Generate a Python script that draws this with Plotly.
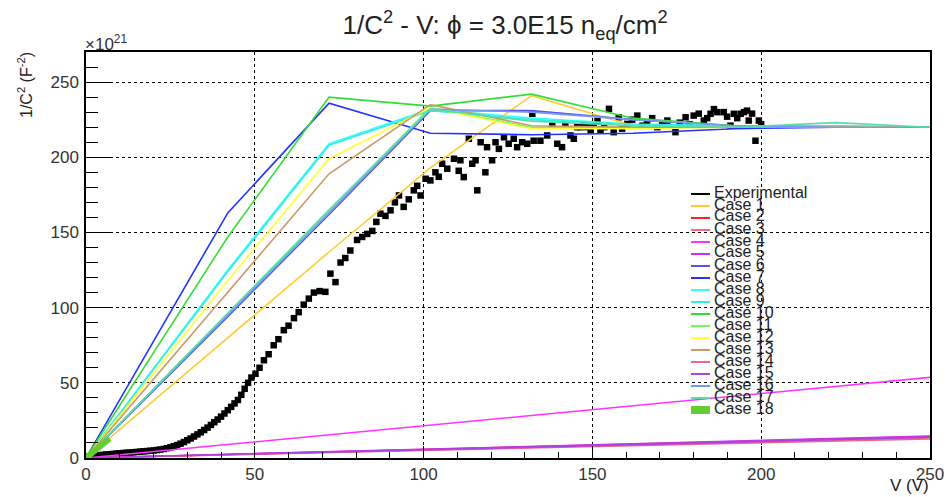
import plotly.graph_objects as go

# ---------------- data ----------------
exp_v = [0, 1, 2, 3, 4, 5, 6, 7, 8, 9, 10, 11, 12, 13, 14, 15, 16, 17, 18, 19, 20,
         21, 22, 23, 24, 25, 26, 27, 28, 29, 30, 31, 32, 33, 34, 35, 36, 37, 38, 39, 40,
         41, 42, 43, 44, 45, 46, 47, 48, 49,
         50.2, 51.4, 52.7, 54.1, 55.6, 57, 58.6, 60, 61.6, 63, 64.5, 66, 67.5, 69.2, 70.9,
         72.4, 73.9, 75.4, 76.8, 78.3, 80.3, 81.8, 83.3, 84.8, 86, 87.2, 88.7, 90.2, 91.5,
         92.7, 94.1, 95.6, 97.1, 98.1, 99.1, 100.6, 102, 103.5, 104.5, 105.5, 107, 109,
         110.4, 110.9, 111.9, 113.4, 114.4, 115.4, 115.9, 116.9, 118.3, 118.8, 120.3, 121.3,
         122.3, 123.8, 125.2, 126.7, 127.7, 129.2, 130.7, 132.2, 132.6, 134.6, 136.6, 138.1,
         139.6, 141, 142, 143.5, 144.5, 145.5, 146.5, 147.5, 148.5, 149.5, 150.4, 151.5,
         152.4, 153.5, 154.9, 156.3, 157.8, 158.8, 160.3, 161.8, 163.3, 164.8, 166.2, 167.7,
         169.2, 170.7, 172.2, 174.6, 175.9, 177.6, 178.8, 180, 181.5, 183, 184, 185, 186,
         187, 188.9, 189.9, 190.9, 191.9, 192.9, 193.9, 194.9, 195.8, 196.3, 197.3, 198.3,
         199.3, 200]
exp_c = [0.5, 1.0, 1.3, 1.6, 1.9, 2.1, 2.3, 2.5, 2.7, 2.9, 3.1, 3.3, 3.5, 3.6, 3.8, 4.0,
         4.2, 4.4, 4.6, 4.8, 5.0, 5.3, 5.6, 6.0, 6.5, 7.1, 7.8, 8.6, 9.5, 10.6, 11.8, 13.0,
         14.3, 15.7, 17.1, 18.6, 20.2, 22.0, 23.8, 25.6, 27.5, 29.6, 31.8, 34.0, 36.3, 38.6,
         42.0, 46.0, 50.0, 53.5,
         56, 60, 65, 69, 75, 79, 85, 88, 93, 97, 102, 106, 110, 111, 110.5,
         122.6, 117, 130, 133, 138, 145, 147, 149, 151, 157, 162.5, 161, 164.7, 170,
         174.6, 167, 172, 178, 181, 174.6, 185.7, 184.6, 190, 187, 195.7, 192.4, 199,
         191, 198, 186.8, 212.3, 195.7, 198, 178, 210, 190, 206.7, 198, 210,
         205.6, 213.3, 209, 212.3, 206.7, 210, 209, 228.9, 211, 211, 214.5, 221,
         209, 206.7, 222, 214.5, 212.3, 220, 220, 222, 220, 218, 221, 224,
         217.8, 220, 232.2, 216.7, 226.6, 219, 222.2, 225, 227.7, 221, 223.3, 226,
         220, 222, 224.4, 216.7, 223, 226.6, 222, 227.7, 229, 224.4, 226, 228.9, 232,
         230, 230, 227, 221, 228.9, 226, 228.9, 230, 231, 224.4, 229, 211,
         224.4, 222]

case_names = ["Case 1", "Case 2", "Case 3", "Case 4", "Case 5", "Case 6", "Case 7",
              "Case 8", "Case 9", "Case 10", "Case 11", "Case 12", "Case 13",
              "Case 14", "Case 15", "Case 16", "Case 17", "Case 18"]

sim_v = [0, 42, 72, 102, 132, 162, 192, 222, 250]
low_v = [0, 250]
c18_v = [0, 7]

case_v = {
    "Case 1": sim_v, "Case 2": low_v, "Case 3": low_v, "Case 4": low_v,
    "Case 5": low_v, "Case 6": sim_v, "Case 7": sim_v, "Case 8": sim_v,
    "Case 9": sim_v, "Case 10": sim_v, "Case 11": sim_v, "Case 12": sim_v,
    "Case 13": sim_v, "Case 14": low_v, "Case 15": low_v, "Case 16": sim_v,
    "Case 17": sim_v, "Case 18": c18_v,
}
case_c = {
    "Case 1":  [0, 80, 137, 193, 241, 221, 220, 220, 220],
    "Case 2":  [0, 14.2],
    "Case 3":  [0, 13.4],
    "Case 4":  [0, 53.6],
    "Case 5":  [0, 14.6],
    "Case 6":  [0, 94, 162, 231, 231, 225, 221, 220, 220],
    "Case 7":  [0, 163, 236, 216, 215, 216, 219, 220, 220],
    "Case 8":  [0, 125, 209, 232, 226, 222, 221, 221, 220],
    "Case 9":  [0, 124, 208, 231, 225, 222, 221, 221, 220],
    "Case 10": [0, 147, 240, 234, 242, 226, 221, 220, 220],
    "Case 11": [0, 96, 165, 233, 220, 220, 220, 220, 220],
    "Case 12": [0, 118, 199, 233, 219, 219, 220, 220, 220],
    "Case 13": [0, 110, 189, 235, 221, 220, 220, 220, 220],
    "Case 14": [0, 12.6],
    "Case 15": [0, 13.8],
    "Case 16": [0, 95, 163, 232, 230, 225, 221, 220, 220],
    "Case 17": [0, 96, 165, 232, 224, 221, 220, 223, 220],
    "Case 18": [0, 13],
}

x_ticks = [0, 50, 100, 150, 200, 250]
y_ticks = [0, 50, 100, 150, 200, 250]

# ---------------- styles ----------------
colors = {
    "Case 1": "#ffcc33", "Case 2": "#ff2222", "Case 3": "#ff6677", "Case 4": "#ff33ff",
    "Case 5": "#cc33ee", "Case 6": "#5555ee", "Case 7": "#2233ff", "Case 8": "#33ffff",
    "Case 9": "#33eedd", "Case 10": "#33dd33", "Case 11": "#66ff55", "Case 12": "#ffff33",
    "Case 13": "#cc9966", "Case 14": "#ee6688", "Case 15": "#aa44dd", "Case 16": "#7799ee",
    "Case 17": "#55ddaa", "Case 18": "#66cc33",
}
FONT = "Liberation Sans, Arial, Helvetica, sans-serif"

fig = go.Figure()
fig.add_trace(go.Scatter(x=exp_v, y=exp_c, mode="markers", name="Experimental",
                         marker=dict(symbol="square", size=6.5, color="black"),
                         showlegend=False))
for n in case_names:
    w = 6 if n == "Case 18" else 1.6
    fig.add_trace(go.Scatter(x=case_v[n], y=case_c[n], mode="lines", name=n,
                             line=dict(color=colors[n], width=w), showlegend=False))

W, H = 947, 497
L, R, T, B = 86, 930, 52, 458          # plot area in pixels


def px(xp):
    return (xp - L) / (R - L)


def py(yp):
    return (B - yp) / (B - T)


axis_common = dict(showline=True, linecolor="black", linewidth=1.5, mirror=True,
                   ticks="inside", tickcolor="black", showgrid=True, gridcolor="black",
                   griddash="dot", gridwidth=1, zeroline=False, automargin=False,
                   tickfont=dict(family=FONT, size=17, color="#333"))

fig.update_layout(
    width=W, height=H,
    margin=dict(l=L, r=W - R, t=T, b=H - B, autoexpand=False),
    paper_bgcolor="white", plot_bgcolor="white",
    font=dict(family=FONT, color="#222"),
    title=dict(text="1/C<sup>2</sup> - V: ϕ = 3.0E15 n<sub>eq</sub>/cm<sup>2</sup>",
               x=505 / W, xanchor="center", y=1 - 25 / H, yanchor="middle",
               font=dict(family=FONT, size=26, color="#222")),
    xaxis=dict(range=[0, 250], tickvals=x_ticks, ticklen=12,
               minor=dict(dtick=10, ticklen=6, tickcolor="black", ticks="inside", showgrid=False),
               **axis_common),
    yaxis=dict(range=[0, 270], tickvals=y_ticks, ticklen=24, ticklabelstandoff=2,
               minor=dict(dtick=10, ticklen=12, tickcolor="black", ticks="inside", showgrid=False),
               **axis_common),
)

ann = []
ann.append(dict(text="1/C<sup>2</sup> (F<sup>-2</sup>)", textangle=-90, xref="paper", yref="paper",
                x=px(25), y=py(50), xanchor="center", yanchor="top", showarrow=False,
                font=dict(family=FONT, size=16, color="#222")))
ann.append(dict(text="×10<sup>21</sup>", xref="paper", yref="paper", x=px(83), y=py(43),
                xanchor="left", yanchor="middle", showarrow=False,
                font=dict(family=FONT, size=17, color="#333")))
ann.append(dict(text="V (V)", xref="paper", yref="paper", x=px(931), y=py(485),
                xanchor="right", yanchor="middle", showarrow=False,
                font=dict(family=FONT, size=17, color="#222")))

# manual compact legend (ROOT style)
shapes = []
legend_items = ["Experimental"] + case_names
for i, n in enumerate(legend_items):
    ys = 194 + 12.0 * i
    ann.append(dict(text=n, xref="paper", yref="paper", x=px(712), y=py(ys - 2),
                    xanchor="left", yanchor="middle", showarrow=False,
                    font=dict(family=FONT, size=16, color="#222")))
    if n == "Case 18":
        shapes.append(dict(type="rect", xref="paper", yref="paper",
                           x0=px(691), x1=px(710), y0=py(ys - 4), y1=py(ys + 4),
                           fillcolor=colors[n], line=dict(width=0)))
    else:
        c = "black" if n == "Experimental" else colors[n]
        shapes.append(dict(type="line", xref="paper", yref="paper",
                           x0=px(691), x1=px(710), y0=py(ys), y1=py(ys),
                           line=dict(color=c, width=2)))

fig.update_layout(annotations=ann, shapes=shapes)
fig.write_html("out.html",
               config={"displayModeBar": False},
               post_script="document.body.style.margin='0';"
                           "document.body.style.overflow='hidden';")
